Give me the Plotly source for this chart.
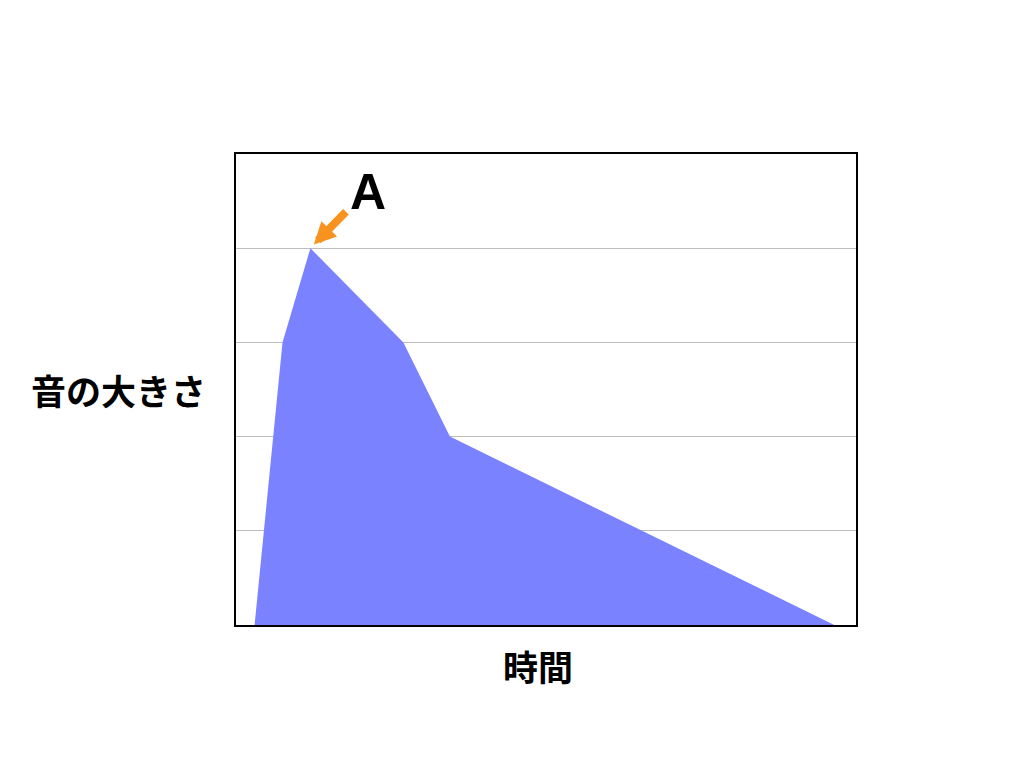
import plotly.graph_objects as go

# envelope of the sound: time vs loudness
time_vals = [3, 7.5, 12, 27, 34.5, 96.5]
loudness = [0, 3, 4, 3, 2, 0]
peak_label = "A"
x_title = "時間"
y_title = "音の大きさ"

font_jp = "Noto Sans CJK JP"

fig = go.Figure()
fig.add_trace(go.Scatter(
    x=time_vals, y=loudness,
    mode="lines", fill="tozeroy",
    fillcolor="#7B82FF", line=dict(width=0, color="#7B82FF"),
    hoverinfo="skip", showlegend=False,
))

# orange arrow pointing at the peak
peak_i = loudness.index(max(loudness))
fig.add_annotation(
    x=time_vals[peak_i], y=loudness[peak_i], xref="x", yref="y",
    ax=37, ay=-38, axref="pixel", ayref="pixel",
    showarrow=True, arrowhead=2, arrowsize=0.55, arrowwidth=8,
    arrowcolor="#F7931E", standoff=5, text="",
)
fig.add_annotation(
    x=21.3, y=4.6, xref="x", yref="y", text=f"<b>{peak_label}</b>",
    showarrow=False, font=dict(family="Liberation Sans", size=50, color="black"),
)

# axis titles as free text
fig.add_annotation(
    x=-0.19, y=0.5, xref="paper", yref="paper", text=f"<b>{y_title}</b>",
    showarrow=False, xanchor="center", yanchor="middle",
    font=dict(family=font_jp, size=35, color="black"),
)
fig.add_annotation(
    x=0.487, y=-0.085, xref="paper", yref="paper", text=f"<b>{x_title}</b>",
    showarrow=False, xanchor="center", yanchor="middle",
    font=dict(family=font_jp, size=35, color="black"),
)

fig.update_xaxes(range=[0, 100], showgrid=False, zeroline=False,
                 showticklabels=False, ticks="",
                 showline=True, linecolor="black", linewidth=2, mirror=True)
fig.update_yaxes(range=[0, 5], dtick=1, showgrid=True, gridcolor="#BDBDBD",
                 gridwidth=1, zeroline=False, showticklabels=False, ticks="",
                 showline=True, linecolor="black", linewidth=2, mirror=True)

fig.update_layout(
    width=1008, height=752,
    margin=dict(l=228, r=160, t=146, b=135),
    plot_bgcolor="white", paper_bgcolor="white",
)
fig.write_html("out.html")
